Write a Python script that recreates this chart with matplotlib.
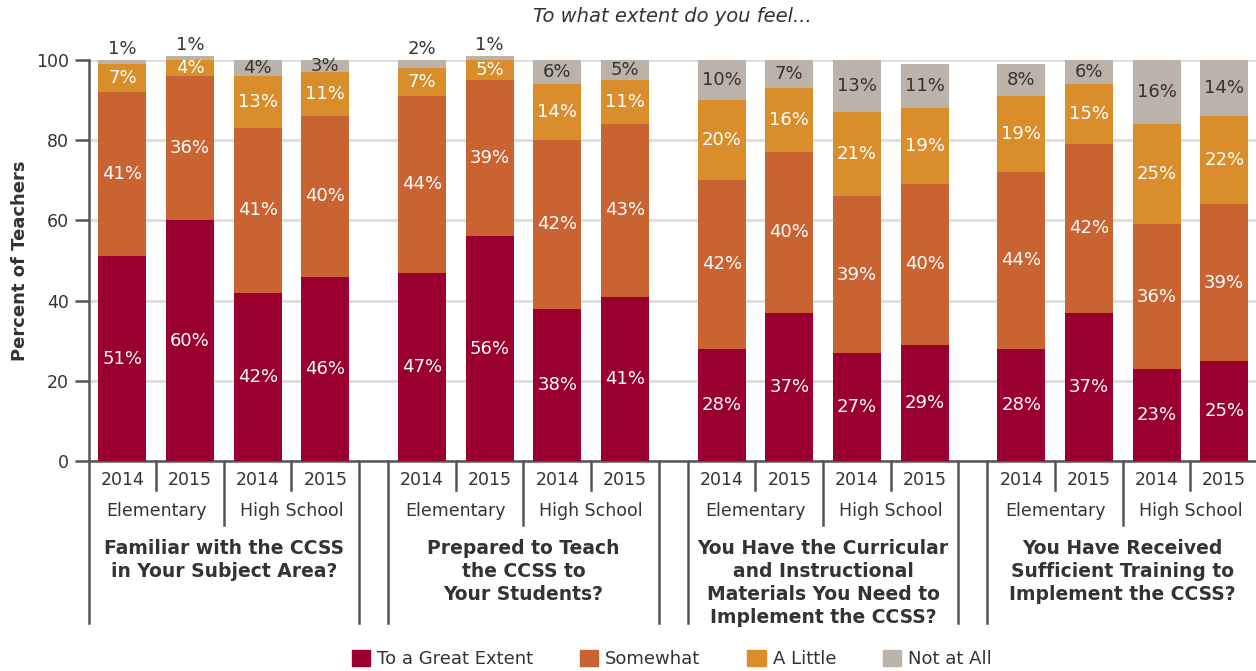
import matplotlib.pyplot as plt
from matplotlib.patches import Patch

# survey questions (bold captions under each block)
questions = ['Familiar with the CCSS\nin Your Subject Area?',
             'Prepared to Teach\nthe CCSS to\nYour Students?',
             'You Have the Curricular\nand Instructional\nMaterials You Need to\nImplement the CCSS?',
             'You Have Received\nSufficient Training to\nImplement the CCSS?']
levels = ['Elementary', 'High School']
years = ['2014', '2015']
responses = ['To a Great Extent', 'Somewhat', 'A Little', 'Not at All']

# percentages per bar: E2014, E2015, H2014, H2015 for each question
great = [51, 60, 42, 46, 47, 56, 38, 41, 28, 37, 27, 29, 28, 37, 23, 25]
somewhat = [41, 36, 41, 40, 44, 39, 42, 43, 42, 40, 39, 40, 44, 42, 36, 39]
little = [7, 4, 13, 11, 7, 5, 14, 11, 20, 16, 21, 19, 19, 15, 25, 22]
not_at_all = [1, 1, 4, 3, 2, 1, 6, 5, 10, 7, 13, 11, 8, 6, 16, 14]

colors = ['#9a002f', '#c96331', '#d98e2b', '#bbb3aa']
txt = '#333333'

plt.rcParams['font.family'] = ['DejaVu Sans']

G = 4.43      # distance between question blocks
W = 0.71      # bar width
xs = [g * G + i for g in range(4) for i in range(4)]

fig = plt.figure(figsize=(12.56, 6.71), dpi=100)
ax = fig.add_axes([0.0705, 0.3130, 0.9295, 0.5976])

series = [great, somewhat, little, not_at_all]
bottoms = [0] * 16
for k, vals in enumerate(series):
    ax.bar(xs, vals, W, bottom=bottoms, color=colors[k], zorder=3, clip_on=False,
           linewidth=0)
    for x, b, v in zip(xs, bottoms, vals):
        if k == 3 and v < 3:
            ax.text(x, b + v + 2.7, f'{v}%', ha='center', va='center',
                    fontsize=13, color=txt)
        else:
            ax.text(x, b + v / 2, f'{v}%', ha='center', va='center', fontsize=13,
                    color=txt if k == 3 else 'white', zorder=4)
    bottoms = [b + v for b, v in zip(bottoms, vals)]

ax.set_xlim(-0.5, 16.76)
ax.set_ylim(0, 100)
ax.set_yticks([0, 20, 40, 60, 80, 100])
ax.set_xticks([])
ax.grid(axis='y', color='#dddddd', linewidth=2, zorder=0)
for s in ['top', 'right']:
    ax.spines[s].set_visible(False)
for s in ['left', 'bottom']:
    ax.spines[s].set_color('#555555')
    ax.spines[s].set_linewidth(1.8)
ax.tick_params(axis='y', length=10, width=1.8, color='#555555', labelsize=12.5,
               labelcolor=txt, pad=4)
ax.set_ylabel('Percent of Teachers', fontsize=13, fontweight='bold', color=txt,
              labelpad=5)
ax.set_title('To what extent do you feel...', fontsize=14, style='italic',
             color=txt, pad=27)

# hierarchical category axis below the bars
tr = ax.get_xaxis_transform()
lc = '#555555'
for g in range(4):
    x0 = g * G
    for i in range(4):
        ax.text(x0 + i, -0.047, years[i % 2], transform=tr, ha='center', va='center',
                fontsize=12.5, color=txt)
    for j in range(2):
        ax.text(x0 + 2 * j + 0.5, -0.125, levels[j], transform=tr, ha='center',
                va='center', fontsize=12.5, color=txt)
    ax.text(x0 + 1.5, -0.195, questions[g], transform=tr, ha='center', va='top',
            fontsize=13.5, fontweight='bold', color=txt, linespacing=1.27)
    ax.plot([x0 + 0.5] * 2, [0, -0.072], transform=tr, color=lc, lw=1.8, clip_on=False)
    ax.plot([x0 + 2.5] * 2, [0, -0.072], transform=tr, color=lc, lw=1.8, clip_on=False)
    ax.plot([x0 + 1.5] * 2, [0, -0.16], transform=tr, color=lc, lw=1.8, clip_on=False)
    ax.plot([x0 - 0.5] * 2, [0, -0.404], transform=tr, color=lc, lw=1.8, clip_on=False)
    if g < 3:
        ax.plot([x0 + 3.5] * 2, [0, -0.404], transform=tr, color=lc, lw=1.8,
                clip_on=False)

handles = [Patch(color=c, label=r) for c, r in zip(colors, responses)]
fig.legend(handles=handles, loc='center', bbox_to_anchor=(0.535, 0.018), ncol=4,
           frameon=False, fontsize=13, handlelength=1.0, handleheight=1.0,
           columnspacing=2.6, handletextpad=0.4, labelcolor=txt)

fig.savefig('out.png', dpi=100)
